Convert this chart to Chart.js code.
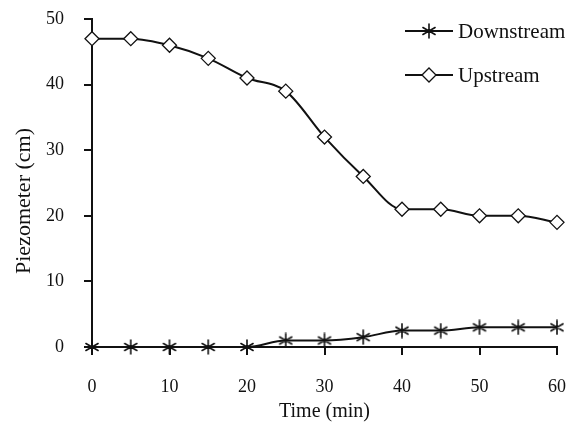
<!DOCTYPE html>
<html>
<head>
<meta charset="utf-8">
<script src="https://cdn.jsdelivr.net/npm/chart.js@4/dist/chart.umd.min.js"></script>
<style>
  html, body { margin: 0; padding: 0; background: #fff; }
  #wrap { width: 574px; height: 425px; position: relative; }
</style>
</head>
<body>
<div id="wrap"><canvas id="c" width="574" height="425"></canvas></div>
<script>
const timeMin = [0, 5, 10, 15, 20, 25, 30, 35, 40, 45, 50, 55, 60];
const downstream = [0, 0, 0, 0, 0, 1, 1, 1.5, 2.5, 2.5, 3, 3, 3];
const upstream = [47, 47, 46, 44, 41, 39, 32, 26, 21, 21, 20, 20, 19];
const xTicks = [0, 10, 20, 30, 40, 50, 60];
const yTicks = [0, 10, 20, 30, 40, 50];
const seriesNames = ['Downstream', 'Upstream'];
const xTitle = 'Time (min)';
const yTitle = 'Piezometer (cm)';

const FONT = '"Liberation Serif", "Times New Roman", serif';
const INK = '#111';

// six-armed asterisk marker
function makeStar() {
  const s = 16, c = document.createElement('canvas');
  c.width = s; c.height = s;
  const g = c.getContext('2d');
  g.strokeStyle = INK; g.lineWidth = 1.6; g.lineCap = 'round';
  const r = 7, m = s / 2;
  g.beginPath();
  g.moveTo(m, m - r); g.lineTo(m, m + r);
  const dx = r * Math.cos(Math.PI / 6), dy = r * Math.sin(Math.PI / 6);
  g.moveTo(m - dx, m - dy); g.lineTo(m + dx, m + dy);
  g.moveTo(m - dx, m + dy); g.lineTo(m + dx, m - dy);
  g.stroke();
  return c;
}
const starImg = makeStar();

const legendPlugin = {
  id: 'customLegend',
  afterDatasetsDraw(chart) {
    const ctx = chart.ctx;
    const items = [
      { ds: chart.data.datasets[0], y: 31 },
      { ds: chart.data.datasets[1], y: 75 }
    ];
    ctx.save();
    items.forEach(it => {
      const x0 = 405, x1 = 453;
      ctx.strokeStyle = INK;
      ctx.lineWidth = 2;
      ctx.beginPath();
      ctx.moveTo(x0, it.y);
      ctx.lineTo(x1, it.y);
      ctx.stroke();
      ctx.fillStyle = '#fff';
      ctx.strokeStyle = INK;
      ctx.lineWidth = it.ds.pointBorderWidth;
      Chart.helpers.drawPoint(ctx, {
        pointStyle: it.ds.pointStyle,
        radius: it.ds.pointRadius,
        rotation: 0,
        borderWidth: it.ds.pointBorderWidth
      }, (x0 + x1) / 2, it.y);
      ctx.fillStyle = INK;
      ctx.font = '21px ' + FONT;
      ctx.textAlign = 'left';
      ctx.textBaseline = 'middle';
      ctx.fillText(it.ds.label, 458, it.y + 1);
    });
    // y-axis title
    ctx.translate(24, 201);
    ctx.rotate(-Math.PI / 2);
    ctx.font = '22px ' + FONT;
    ctx.textAlign = 'center';
    ctx.textBaseline = 'middle';
    ctx.fillStyle = INK;
    ctx.fillText(yTitle, 0, 0);
    ctx.restore();
  }
};

const pts = (arr) => timeMin.map((t, i) => ({ x: t, y: arr[i] }));

new Chart(document.getElementById('c'), {
  type: 'line',
  data: {
    datasets: [
      {
        label: seriesNames[0],
        data: pts(downstream),
        borderColor: INK,
        borderWidth: 2,
        pointStyle: starImg,
        pointRadius: 7,
        pointBorderColor: INK,
        pointBackgroundColor: '#fff',
        pointBorderWidth: 1.5,
        tension: 0.3,
        cubicInterpolationMode: 'monotone',
        clip: false
      },
      {
        label: seriesNames[1],
        data: pts(upstream),
        borderColor: INK,
        borderWidth: 2,
        pointStyle: 'rectRot',
        pointRadius: 7,
        pointBorderColor: INK,
        pointBackgroundColor: '#fff',
        pointBorderWidth: 1.3,
        tension: 0.3,
        cubicInterpolationMode: 'monotone',
        clip: false
      }
    ]
  },
  options: {
    responsive: false,
    animation: false,
    events: [],
    layout: { autoPadding: false, padding: { top: 19, right: 17, left: 0, bottom: 0 } },
    plugins: {
      legend: { display: false },
      tooltip: { enabled: false }
    },
    scales: {
      x: {
        type: 'linear',
        min: 0, max: 60,
        afterBuildTicks(s) { s.ticks = xTicks.map(v => ({ value: v })); },
        afterFit(s) { s.height = 78; s.paddingLeft = 0; s.paddingRight = 0; },
        border: { display: true, color: INK, width: 2 },
        grid: { drawOnChartArea: false, drawTicks: true, tickLength: 8, color: INK, lineWidth: 2 },
        ticks: { color: INK, font: { family: FONT, size: 18 }, padding: 21, maxRotation: 0 },
        title: { display: true, text: xTitle, color: INK, font: { family: FONT, size: 20 }, padding: { top: 0, bottom: 1 } }
      },
      y: {
        type: 'linear',
        min: 0, max: 50,
        afterBuildTicks(s) { s.ticks = yTicks.map(v => ({ value: v })); },
        afterFit(s) { s.width = 92; s.paddingTop = 0; s.paddingBottom = 0; },
        border: { display: true, color: INK, width: 2 },
        grid: { drawOnChartArea: false, drawTicks: true, tickLength: 8, color: INK, lineWidth: 2 },
        ticks: { color: INK, font: { family: FONT, size: 18 }, padding: 20 },
        title: { display: false }
      }
    }
  },
  plugins: [legendPlugin]
});
</script>
</body>
</html>
